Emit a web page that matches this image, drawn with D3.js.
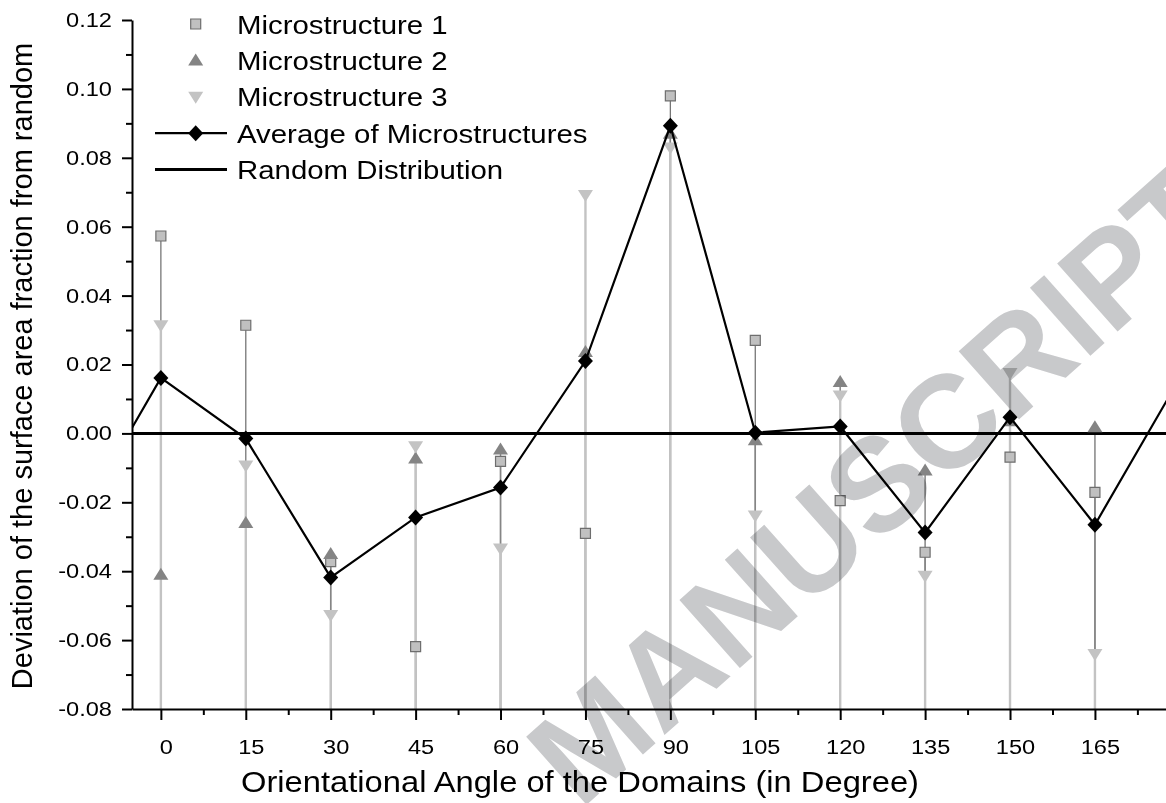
<!DOCTYPE html>
<html>
<head>
<meta charset="utf-8">
<script src="https://cdn.jsdelivr.net/npm/d3@7"></script>
<style>
  html, body { margin: 0; padding: 0; background: #fff; }
  svg { display: block; font-family: "Liberation Sans", Arial, sans-serif; }
</style>
</head>
<body>
<div id="chart"></div>
<script>
// data
const angles = [0, 15, 30, 45, 60, 75, 90, 105, 120, 135, 150, 165];
const micro1 = [0.0573, 0.0314, -0.0372, -0.0619, -0.0081, -0.0290, 0.0980, 0.0270, -0.0195, -0.0345, -0.0069, -0.0171];
const micro2 = [-0.0410, -0.0260, -0.0350, -0.0073, -0.0047, 0.0236, 0.0870, -0.0020, 0.0149, -0.0108, 0.0035, 0.0018];
const micro3 = [0.0314, -0.0093, -0.0527, -0.0037, -0.0334, 0.0692, 0.0830, -0.0238, 0.0110, -0.0413, 0.0175, -0.0640];
const average = [0.0161, -0.0015, -0.0418, -0.0244, -0.0157, 0.0210, 0.0893, 0.0002, 0.0020, -0.0288, 0.0047, -0.0265];
const randomLevel = 0;
const yTicks = [-0.08, -0.06, -0.04, -0.02, 0.00, 0.02, 0.04, 0.06, 0.08, 0.10, 0.12];
const xTicks = [0, 15, 30, 45, 60, 75, 90, 105, 120, 135, 150, 165];
const legendNames = ["Microstructure 1", "Microstructure 2", "Microstructure 3", "Average of Microstructures", "Random Distribution"];

const width = 1166, height = 803;
const marginLeft = 132, plotBottom = 709, plotTop = 20;

const x = d3.scaleLinear().domain([-5.1, 185]).range([marginLeft, marginLeft + 190.1 * 5.661]);
const y = d3.scaleLinear().domain([-0.08, 0.12]).range([plotBottom, plotTop]);

const svg = d3.select("#chart").append("svg")
    .attr("width", width)
    .attr("height", height)
    .attr("viewBox", [0, 0, width, height]);

// stretch text a bit wider, the reference glyphs are wider than plain Arial
function stretch(sel, k) {
    sel.each(function () {
        const w = this.getComputedTextLength();
        d3.select(this).attr("textLength", w * k).attr("lengthAdjust", "spacingAndGlyphs");
    });
}

svg.append("clipPath").attr("id", "plotclip")
    .append("rect")
    .attr("x", marginLeft).attr("y", 0)
    .attr("width", width - marginLeft).attr("height", plotBottom);

const plot = svg.append("g").attr("clip-path", "url(#plotclip)");

// drop lines
const series = [
    { vals: micro1, line: "#767676", lw: 1.3 },
    { vals: micro2, line: "#858585", lw: 1.5 },
    { vals: micro3, line: "#c3c3c3", lw: 2.4 }
];
series.forEach(s => {
    plot.append("g")
        .attr("stroke", s.line)
        .attr("stroke-width", s.lw)
        .selectAll("line")
        .data(angles)
        .join("line")
        .attr("x1", d => x(d)).attr("x2", d => x(d))
        .attr("y1", (d, i) => y(s.vals[i]))
        .attr("y2", y(-0.08));
});

// random distribution
plot.append("line")
    .attr("x1", x(-5.1)).attr("x2", width)
    .attr("y1", y(randomLevel)).attr("y2", y(randomLevel))
    .attr("stroke", "#000").attr("stroke-width", 3);

// symbols
const square = d3.symbol().type(d3.symbolSquare).size(100);
const triUp = "M0,-7L7.5,5L-7.5,5Z";
const triDown = "M0,7L7.5,-5L-7.5,-5Z";
const diamond = "M0,-8L7.5,0L0,8L-7.5,0Z";

plot.append("g").selectAll("path")
    .data(angles)
    .join("path")
    .attr("d", square())
    .attr("transform", (d, i) => `translate(${x(d)},${y(micro1[i])})`)
    .attr("fill", "#c0c0c0").attr("stroke", "#6e6e6e").attr("stroke-width", 1.2);

plot.append("g").selectAll("path")
    .data(angles)
    .join("path")
    .attr("d", triUp)
    .attr("transform", (d, i) => `translate(${x(d)},${y(micro2[i])})`)
    .attr("fill", "#848484");

plot.append("g").selectAll("path")
    .data(angles)
    .join("path")
    .attr("d", triDown)
    .attr("transform", (d, i) => `translate(${x(d)},${y(micro3[i])})`)
    .attr("fill", "#c3c3c3");

// average line, wrapped around at both ends (0 deg == 180 deg)
const n = angles.length;
const avgPts = [[angles[0] - 15, average[n - 1]]]
    .concat(angles.map((a, i) => [a, average[i]]))
    .concat([[angles[n - 1] + 15, average[0]]]);

plot.append("path")
    .attr("d", d3.line().x(d => x(d[0])).y(d => y(d[1]))(avgPts))
    .attr("fill", "none").attr("stroke", "#000").attr("stroke-width", 2.2);

plot.append("g").selectAll("path")
    .data(angles)
    .join("path")
    .attr("d", diamond)
    .attr("transform", (d, i) => `translate(${x(d)},${y(average[i])})`)
    .attr("fill", "#000");

// axes
const yAxis = svg.append("g")
    .attr("transform", `translate(${marginLeft},0)`)
    .call(d3.axisLeft(y).tickValues(yTicks).tickSize(10).tickSizeOuter(0).tickPadding(10)
        .tickFormat(d => d.toFixed(2)));
yAxis.append("g").call(d3.axisLeft(y)
    .tickValues(d3.range(yTicks.length - 1).map(i => (yTicks[i] + yTicks[i + 1]) / 2))
    .tickSize(6).tickSizeOuter(0).tickFormat(""))
    .select(".domain").remove();

const xAxis = svg.append("g")
    .attr("transform", `translate(0,${plotBottom})`)
    .call(d3.axisBottom(x).tickValues(xTicks).tickSize(11).tickSizeOuter(0).tickPadding(20));
xAxis.append("g").call(d3.axisBottom(x)
    .tickValues(xTicks.map(d => d + 7.5))
    .tickSize(6).tickSizeOuter(0).tickFormat(""))
    .select(".domain").remove();

svg.selectAll(".tick line, .domain").attr("stroke", "#000").attr("stroke-width", 2);
yAxis.selectAll(".tick text").attr("font-size", 20).attr("fill", "#000").attr("font-family", null);
xAxis.selectAll(".tick text").attr("font-size", 20).attr("fill", "#000").attr("font-family", null)
    .attr("dx", 5);
stretch(yAxis.selectAll(".tick text"), 1.18);
stretch(xAxis.selectAll(".tick text"), 1.18);

// axis titles
const xTitle = svg.append("text")
    .attr("x", 580).attr("y", 792)
    .attr("text-anchor", "middle")
    .attr("font-size", 30)
    .text("Orientational Angle of the Domains (in Degree)");
stretch(xTitle, 1.09);

svg.append("text")
    .attr("transform", "translate(32,366) rotate(-90)")
    .attr("text-anchor", "middle")
    .attr("font-size", 29)
    .text("Deviation of the surface area fraction from random");

// legend
const lg = svg.append("g");
const rowY = i => 24 + i * 36.4;
const lx = 195.7;
lg.append("path").attr("d", square()).attr("transform", `translate(${lx},${rowY(0)})`)
    .attr("fill", "#c0c0c0").attr("stroke", "#6e6e6e").attr("stroke-width", 1.2);
lg.append("path").attr("d", triUp).attr("transform", `translate(${lx},${rowY(1)})`).attr("fill", "#848484");
lg.append("path").attr("d", triDown).attr("transform", `translate(${lx},${rowY(2)})`).attr("fill", "#c3c3c3");
lg.append("line").attr("x1", 155).attr("x2", 227).attr("y1", rowY(3)).attr("y2", rowY(3))
    .attr("stroke", "#000").attr("stroke-width", 2.2);
lg.append("path").attr("d", diamond).attr("transform", `translate(${lx},${rowY(3)})`).attr("fill", "#000");
lg.append("line").attr("x1", 155).attr("x2", 227).attr("y1", rowY(4)).attr("y2", rowY(4))
    .attr("stroke", "#000").attr("stroke-width", 3);
const lt = lg.selectAll("text")
    .data(legendNames)
    .join("text")
    .attr("x", 237)
    .attr("y", (d, i) => rowY(i) + 9.5)
    .attr("font-size", 26)
    .text(d => d);
stretch(lt, 1.13);

// watermark (only its visible part, the rest lies outside the picture)
svg.append("text")
    .attr("transform", "translate(1237,225) rotate(-41.7)")
    .attr("text-anchor", "end")
    .attr("font-size", 132)
    .attr("font-weight", "bold")
    .attr("fill", "#c8c9cb")
    .style("mix-blend-mode", "multiply")
    .text("MANUSCRIPT");
</script>
</body>
</html>
